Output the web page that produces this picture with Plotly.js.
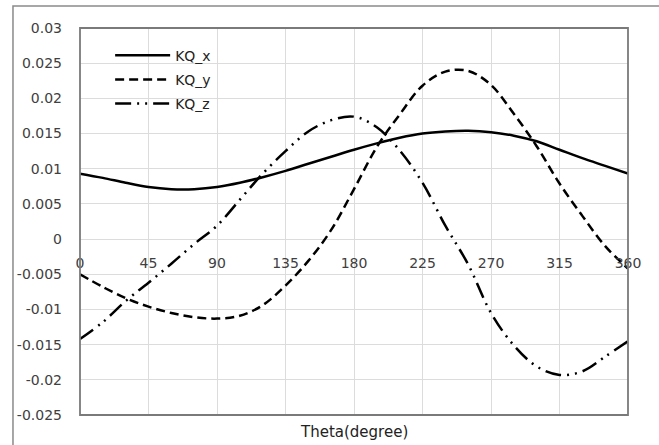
<!DOCTYPE html>
<html>
<head>
<meta charset="utf-8">
<script src="https://cdn.plot.ly/plotly-3.0.1.min.js"></script>
<style>
html,body{margin:0;padding:0;background:#fff;}
#chart{width:659px;height:445px;}
</style>
</head>
<body>
<div id="chart"></div>
<script>
// Data
const theta = [0,15,30,45,60,75,90,105,120,135,150,165,180,195,210,225,240,255,270,285,300,315,330,345,360];
const kqX = [0.0093,0.0087,0.0080,0.0074,0.0071,0.0071,0.0074,0.0080,0.0088,0.0097,0.0107,0.0117,0.0127,0.0136,0.0144,0.0150,0.0153,0.0154,0.0152,0.0147,0.0139,0.0127,0.0115,0.0104,0.0093];
const kqY = [-0.0050,-0.0068,-0.0084,-0.0096,-0.0105,-0.0111,-0.0113,-0.0109,-0.0094,-0.0066,-0.0031,0.0013,0.0071,0.0131,0.0177,0.0218,0.0238,0.0239,0.0219,0.0178,0.0132,0.0079,0.0033,-0.0010,-0.0042];
const kqZ = [-0.0142,-0.0118,-0.0088,-0.0062,-0.0035,-0.0007,0.0019,0.0056,0.0093,0.0125,0.0153,0.0169,0.0174,0.0159,0.0126,0.0080,0.0019,-0.0036,-0.0105,-0.0151,-0.0181,-0.0193,-0.0188,-0.0167,-0.0145];
const seriesNames = ["KQ_x","KQ_y","KQ_z"];
const xTickVals = [0,45,90,135,180,225,270,315,360];
const xTickText = ["0","45","90","135","180","225","270","315","360"];
const yTickVals = [0.03,0.025,0.02,0.015,0.01,0.005,0,-0.005,-0.01,-0.015,-0.02,-0.025];
const yTickText = ["0.03","0.025","0.02","0.015","0.01","0.005","0","-0.005","-0.01","-0.015","-0.02","-0.025"];
const xTitle = "Theta(degree)";

const FONT = "DejaVu Sans, sans-serif";
const TXT = "#404040";
const dashes = ["solid","9px,5px","16px,6px,2px,6px,2px,6px"];
const values = [kqX,kqY,kqZ];

const traces = values.map((v,i)=>({
  x: theta, y: v, name: seriesNames[i], type: "scatter", mode: "lines",
  line: {color: "#000", width: 2.5, dash: dashes[i], shape: "spline", smoothing: 1},
  legendgroup: "g"+i
}));

const layout = {
  width: 659, height: 445,
  margin: {l: 80, r: 31, t: 28, b: 30},
  paper_bgcolor: "#fff", plot_bgcolor: "#fff",
  font: {family: FONT, size: 14, color: TXT},
  showlegend: true,
  legend: {x: 0.055, y: 0.97, xanchor: "left", yanchor: "top", bgcolor: "rgba(0,0,0,0)", itemwidth: 55,
           font: {family: FONT, size: 14, color: "#222"}, traceorder: "grouped", tracegroupgap: 3},
  xaxis: {range: [0,360], tickvals: xTickVals, ticktext: xTickText, showgrid: true, gridcolor: "#dcdcdc", gridwidth: 1,
          zeroline: false, showline: false, ticks: "", anchor: "free", position: 0.4545,
          ticklabelstandoff: 14, tickfont: {family: FONT, size: 14, color: TXT}},
  yaxis: {range: [-0.025,0.03], tickvals: yTickVals, ticktext: yTickText, showgrid: true, gridcolor: "#dcdcdc", gridwidth: 1,
          zeroline: false, showline: false, ticks: "", ticklabelstandoff: 17, tickfont: {family: FONT, size: 14, color: TXT}},
  shapes: [
    {type: "rect", xref: "paper", yref: "paper", x0: 0, x1: 1, y0: 0, y1: 1, line: {color: "#7a7a7a", width: 1.8}, layer: "above"},
    {type: "rect", xref: "paper", yref: "paper", x0: -0.1223, x1: 1.06, y0: -0.09, y1: 1.0568, line: {color: "#8a8a8a", width: 1.5}, layer: "above"}
  ],
  annotations: [
    {text: xTitle, xref: "paper", yref: "paper", x: 0.5, y: -0.044, xanchor: "center", yanchor: "middle", showarrow: false,
     font: {family: FONT, size: 15, color: "#222"}}
  ]
};

Plotly.newPlot("chart", traces, layout, {displayModeBar: false, staticPlot: true});
</script>
</body>
</html>
